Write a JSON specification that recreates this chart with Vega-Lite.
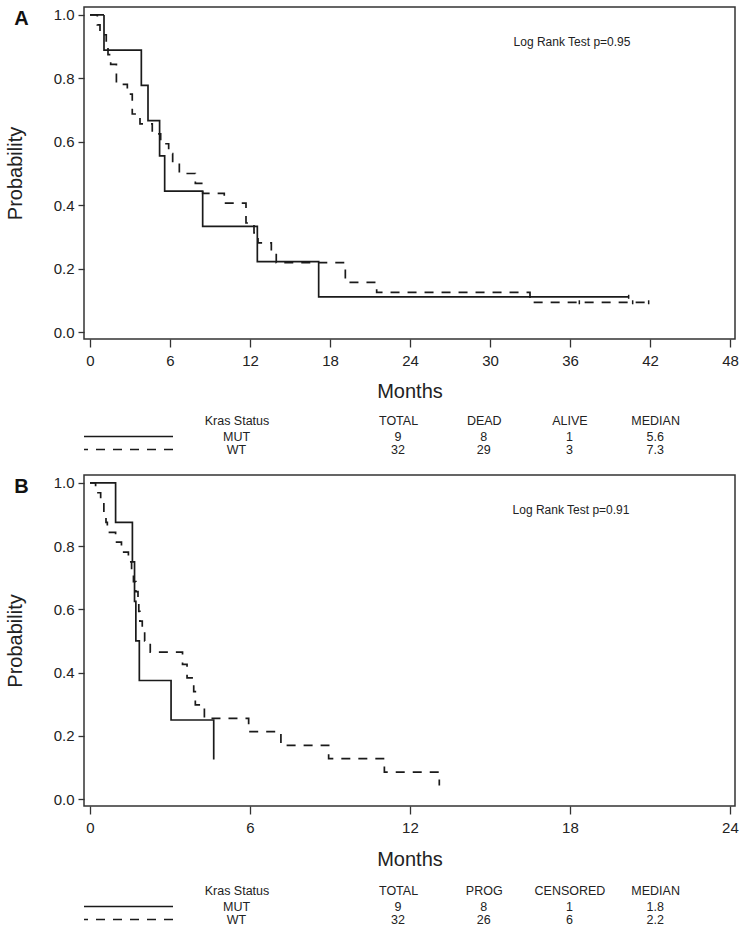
{
  "$schema": "https://vega.github.io/schema/vega-lite/v6.json",
  "padding": {"left": 4, "top": 6, "right": 2, "bottom": 0},
  "background": "white",
  "config": {
    "font": "Liberation Sans",
    "view": {"stroke": null},
    "axis": {"grid": false, "domain": false, "tickColor": "#333", "tickWidth": 1.3, "labelColor": "#222", "titleColor": "#222", "labelFont": "Liberation Sans", "titleFont": "Liberation Sans", "titleFontWeight": "normal"},
    "title": {"color": "#111", "font": "Liberation Sans"}
  },
  "datasets": {
    "kmA": [
      {"kras": "MUT", "month": 0, "prob": 1},
      {"kras": "MUT", "month": 1.05, "prob": 0.8889},
      {"kras": "MUT", "month": 3.85, "prob": 0.7778},
      {"kras": "MUT", "month": 4.35, "prob": 0.6667},
      {"kras": "MUT", "month": 5.22, "prob": 0.5556},
      {"kras": "MUT", "month": 5.6, "prob": 0.4444},
      {"kras": "MUT", "month": 8.45, "prob": 0.3333},
      {"kras": "MUT", "month": 12.55, "prob": 0.2222},
      {"kras": "MUT", "month": 17.15, "prob": 0.1111},
      {"kras": "MUT", "month": 40.4, "prob": 0.1111},
      {"kras": "WT", "month": 0, "prob": 1},
      {"kras": "WT", "month": 0.55, "prob": 0.9688},
      {"kras": "WT", "month": 0.75, "prob": 0.9375},
      {"kras": "WT", "month": 1.22, "prob": 0.9063},
      {"kras": "WT", "month": 1.35, "prob": 0.875},
      {"kras": "WT", "month": 1.55, "prob": 0.8438},
      {"kras": "WT", "month": 1.98, "prob": 0.7813},
      {"kras": "WT", "month": 2.8, "prob": 0.75},
      {"kras": "WT", "month": 3.17, "prob": 0.6875},
      {"kras": "WT", "month": 3.75, "prob": 0.6563},
      {"kras": "WT", "month": 4.67, "prob": 0.625},
      {"kras": "WT", "month": 5.3, "prob": 0.5938},
      {"kras": "WT", "month": 5.9, "prob": 0.5625},
      {"kras": "WT", "month": 6.2, "prob": 0.5313},
      {"kras": "WT", "month": 6.7, "prob": 0.5},
      {"kras": "WT", "month": 7.9, "prob": 0.4688},
      {"kras": "WT", "month": 8.45, "prob": 0.4375},
      {"kras": "WT", "month": 10.07, "prob": 0.4063},
      {"kras": "WT", "month": 11.7, "prob": 0.3438},
      {"kras": "WT", "month": 12.3, "prob": 0.3125},
      {"kras": "WT", "month": 12.6, "prob": 0.2813},
      {"kras": "WT", "month": 13.6, "prob": 0.25},
      {"kras": "WT", "month": 13.97, "prob": 0.2188},
      {"kras": "WT", "month": 19.15, "prob": 0.1563},
      {"kras": "WT", "month": 21.5, "prob": 0.125},
      {"kras": "WT", "month": 33.0, "prob": 0.0938},
      {"kras": "WT", "month": 41.9, "prob": 0.0938}
    ],
    "censA": [
      {"kras": "MUT", "month": 40.4, "prob": 0.1111},
      {"kras": "WT", "month": 36.7, "prob": 0.0938},
      {"kras": "WT", "month": 40.7, "prob": 0.0938},
      {"kras": "WT", "month": 41.9, "prob": 0.0938}
    ],
    "kmB": [
      {"kras": "MUT", "month": 0, "prob": 1},
      {"kras": "MUT", "month": 0.96, "prob": 0.875},
      {"kras": "MUT", "month": 1.59, "prob": 0.75},
      {"kras": "MUT", "month": 1.67, "prob": 0.625},
      {"kras": "MUT", "month": 1.72, "prob": 0.5},
      {"kras": "MUT", "month": 1.85, "prob": 0.375},
      {"kras": "MUT", "month": 3.04, "prob": 0.25},
      {"kras": "MUT", "month": 4.64, "prob": 0.125},
      {"kras": "WT", "month": 0, "prob": 1},
      {"kras": "WT", "month": 0.21, "prob": 0.9688},
      {"kras": "WT", "month": 0.4, "prob": 0.9375},
      {"kras": "WT", "month": 0.52, "prob": 0.9063},
      {"kras": "WT", "month": 0.6, "prob": 0.875},
      {"kras": "WT", "month": 0.65, "prob": 0.8438},
      {"kras": "WT", "month": 0.96, "prob": 0.8125},
      {"kras": "WT", "month": 1.18, "prob": 0.7813},
      {"kras": "WT", "month": 1.44, "prob": 0.75},
      {"kras": "WT", "month": 1.56, "prob": 0.7188},
      {"kras": "WT", "month": 1.63, "prob": 0.6875},
      {"kras": "WT", "month": 1.72, "prob": 0.6563},
      {"kras": "WT", "month": 1.8, "prob": 0.625},
      {"kras": "WT", "month": 1.83, "prob": 0.5938},
      {"kras": "WT", "month": 1.87, "prob": 0.5625},
      {"kras": "WT", "month": 1.96, "prob": 0.5313},
      {"kras": "WT", "month": 2.05, "prob": 0.5},
      {"kras": "WT", "month": 2.26, "prob": 0.465},
      {"kras": "WT", "month": 3.47, "prob": 0.426},
      {"kras": "WT", "month": 3.64, "prob": 0.383},
      {"kras": "WT", "month": 3.89, "prob": 0.34},
      {"kras": "WT", "month": 3.95, "prob": 0.298},
      {"kras": "WT", "month": 4.29, "prob": 0.255},
      {"kras": "WT", "month": 5.95, "prob": 0.213},
      {"kras": "WT", "month": 7.16, "prob": 0.17},
      {"kras": "WT", "month": 8.95, "prob": 0.128},
      {"kras": "WT", "month": 11.04, "prob": 0.085},
      {"kras": "WT", "month": 13.1, "prob": 0.043}
    ],
    "tabA": [
      {"kras": "MUT", "TOTAL": "9", "DEAD": "8", "ALIVE": "1", "MEDIAN": "5.6"},
      {"kras": "WT", "TOTAL": "32", "DEAD": "29", "ALIVE": "3", "MEDIAN": "7.3"}
    ],
    "tabB": [
      {"kras": "MUT", "TOTAL": "9", "PROG": "8", "CENSORED": "1", "MEDIAN": "1.8"},
      {"kras": "WT", "TOTAL": "32", "PROG": "26", "CENSORED": "6", "MEDIAN": "2.2"}
    ]
  },
  "spacing": 18,
  "vconcat": [
    {
      "spacing": 12,
      "vconcat": [
        {
          "width": 651,
          "height": 332,
          "view": {"stroke": "#333", "strokeWidth": 1.5},
          "title": {"text": "A", "anchor": "start", "frame": "bounds", "offset": -22, "fontSize": 20, "fontWeight": "bold", "dx": 9},
          "layer": [
            {
              "data": {"name": "kmA"},
              "mark": {"type": "line", "interpolate": "step-after", "color": "#1a1a1a", "strokeWidth": 1.7},
              "encoding": {
                "x": {"field": "month", "type": "quantitative", "scale": {"domain": [-0.45, 48.375], "nice": false, "zero": false},
                  "axis": {"values": [0, 6, 12, 18, 24, 30, 36, 42, 48], "title": "Months", "titleFontSize": 20, "titlePadding": 13, "labelFontSize": 15, "tickSize": 8, "labelPadding": 6, "labelFlush": false, "labelOverlap": false}},
                "y": {"field": "prob", "type": "quantitative", "scale": {"domain": [-0.022, 1.025], "nice": false, "zero": false},
                  "axis": {"values": [0, 0.2, 0.4, 0.6, 0.8, 1.0], "format": ".1f", "title": "Probability", "titleFontSize": 20, "titlePadding": 28, "labelFontSize": 15, "tickSize": 6, "labelPadding": 4, "labelFlush": false, "labelOverlap": false}},
                "strokeDash": {"field": "kras", "type": "nominal", "scale": {"domain": ["MUT", "WT"], "range": [[1, 0], [9, 8]]}, "legend": null}
              }
            },
            {
              "data": {"name": "censA"},
              "mark": {"type": "point", "shape": "M0,-1L0,1", "size": 16, "filled": false, "color": "#1a1a1a", "strokeWidth": 1.5, "opacity": 1},
              "encoding": {
                "x": {"field": "month", "type": "quantitative"},
                "y": {"field": "prob", "type": "quantitative"}
              }
            },
            {
              "data": {"values": [{"label": "Log Rank Test p=0.95"}]},
              "mark": {"type": "text", "fontSize": 12, "color": "#222"},
              "encoding": {
                "x": {"datum": 36.15, "type": "quantitative"},
                "y": {"datum": 0.915, "type": "quantitative"},
                "text": {"field": "label"}
              }
            }
          ]
        },
        {
          "spacing": 0,
          "hconcat": [
            {
              "width": 89, "height": 26,
              "data": {"name": "tabA"},
              "mark": {"type": "rule", "color": "#1a1a1a", "strokeWidth": 1.5},
              "encoding": {
                "y": {"field": "kras", "type": "nominal", "scale": {"type": "point", "domain": ["MUT", "WT"], "padding": 0.5}, "axis": null},
                "strokeDash": {"field": "kras", "type": "nominal", "scale": {"domain": ["MUT", "WT"], "range": [[1, 0], [9, 8]]}, "legend": null}
              }
            },
            {
              "width": 125, "height": 26,
              "data": {"name": "tabA"},
              "mark": {"type": "text", "font": "Liberation Sans", "fontSize": 12.5, "color": "#222"},
              "encoding": {
                "x": {"datum": "Kras Status", "type": "nominal", "axis": {"orient": "top", "title": null, "ticks": false, "labelPadding": 3, "labelAngle": 0, "labelFont": "Liberation Sans", "labelFontSize": 12.5}},
                "y": {"field": "kras", "type": "nominal", "scale": {"type": "point", "domain": ["MUT", "WT"], "padding": 0.5}, "axis": null},
                "text": {"field": "kras"}
              }
            },
            {
              "width": 399, "height": 26,
              "data": {"name": "tabA"},
              "transform": [{"fold": ["TOTAL", "DEAD", "ALIVE", "MEDIAN"], "as": ["col", "val"]}],
              "mark": {"type": "text", "font": "Liberation Sans", "fontSize": 12.5, "color": "#222"},
              "encoding": {
                "x": {"field": "col", "type": "nominal", "scale": {"type": "point", "domain": ["TOTAL", "DEAD", "ALIVE", "MEDIAN"], "padding": 0.828, "align": 0.698}, "axis": {"orient": "top", "title": null, "ticks": false, "labelPadding": 3, "labelAngle": 0, "labelFont": "Liberation Sans", "labelFontSize": 12.5}},
                "y": {"field": "kras", "type": "nominal", "scale": {"type": "point", "domain": ["MUT", "WT"], "padding": 0.5}, "axis": null},
                "text": {"field": "val"}
              }
            }
          ]
        }
      ]
    },
    {
      "spacing": 14,
      "vconcat": [
        {
          "width": 651,
          "height": 331,
          "view": {"stroke": "#333", "strokeWidth": 1.5},
          "title": {"text": "B", "anchor": "start", "frame": "bounds", "offset": -22, "fontSize": 20, "fontWeight": "bold", "dx": 9},
          "layer": [
            {
              "data": {"name": "kmB"},
              "mark": {"type": "line", "interpolate": "step-after", "color": "#1a1a1a", "strokeWidth": 1.7},
              "encoding": {
                "x": {"field": "month", "type": "quantitative", "scale": {"domain": [-0.225, 24.19], "nice": false, "zero": false},
                  "axis": {"values": [0, 6, 12, 18, 24], "title": "Months", "titleFontSize": 20, "titlePadding": 14, "labelFontSize": 15, "tickSize": 8, "labelPadding": 6, "labelFlush": false, "labelOverlap": false}},
                "y": {"field": "prob", "type": "quantitative", "scale": {"domain": [-0.022, 1.025], "nice": false, "zero": false},
                  "axis": {"values": [0, 0.2, 0.4, 0.6, 0.8, 1.0], "format": ".1f", "title": "Probability", "titleFontSize": 20, "titlePadding": 28, "labelFontSize": 15, "tickSize": 6, "labelPadding": 4, "labelFlush": false, "labelOverlap": false}},
                "strokeDash": {"field": "kras", "type": "nominal", "scale": {"domain": ["MUT", "WT"], "range": [[1, 0], [9, 8]]}, "legend": null}
              }
            },
            {
              "data": {"values": [{"label": "Log Rank Test p=0.91"}]},
              "mark": {"type": "text", "fontSize": 12, "color": "#222"},
              "encoding": {
                "x": {"datum": 18.04, "type": "quantitative"},
                "y": {"datum": 0.915, "type": "quantitative"},
                "text": {"field": "label"}
              }
            }
          ]
        },
        {
          "spacing": 0,
          "hconcat": [
            {
              "width": 89, "height": 26,
              "data": {"name": "tabB"},
              "mark": {"type": "rule", "color": "#1a1a1a", "strokeWidth": 1.5},
              "encoding": {
                "y": {"field": "kras", "type": "nominal", "scale": {"type": "point", "domain": ["MUT", "WT"], "padding": 0.5}, "axis": null},
                "strokeDash": {"field": "kras", "type": "nominal", "scale": {"domain": ["MUT", "WT"], "range": [[1, 0], [9, 8]]}, "legend": null}
              }
            },
            {
              "width": 125, "height": 26,
              "data": {"name": "tabB"},
              "mark": {"type": "text", "font": "Liberation Sans", "fontSize": 12.5, "color": "#222"},
              "encoding": {
                "x": {"datum": "Kras Status", "type": "nominal", "axis": {"orient": "top", "title": null, "ticks": false, "labelPadding": 3, "labelAngle": 0, "labelFont": "Liberation Sans", "labelFontSize": 12.5}},
                "y": {"field": "kras", "type": "nominal", "scale": {"type": "point", "domain": ["MUT", "WT"], "padding": 0.5}, "axis": null},
                "text": {"field": "kras"}
              }
            },
            {
              "width": 399, "height": 26,
              "data": {"name": "tabB"},
              "transform": [{"fold": ["TOTAL", "PROG", "CENSORED", "MEDIAN"], "as": ["col", "val"]}],
              "mark": {"type": "text", "font": "Liberation Sans", "fontSize": 12.5, "color": "#222"},
              "encoding": {
                "x": {"field": "col", "type": "nominal", "scale": {"type": "point", "domain": ["TOTAL", "PROG", "CENSORED", "MEDIAN"], "padding": 0.828, "align": 0.698}, "axis": {"orient": "top", "title": null, "ticks": false, "labelPadding": 3, "labelAngle": 0, "labelFont": "Liberation Sans", "labelFontSize": 12.5}},
                "y": {"field": "kras", "type": "nominal", "scale": {"type": "point", "domain": ["MUT", "WT"], "padding": 0.5}, "axis": null},
                "text": {"field": "val"}
              }
            }
          ]
        }
      ]
    }
  ]
}
